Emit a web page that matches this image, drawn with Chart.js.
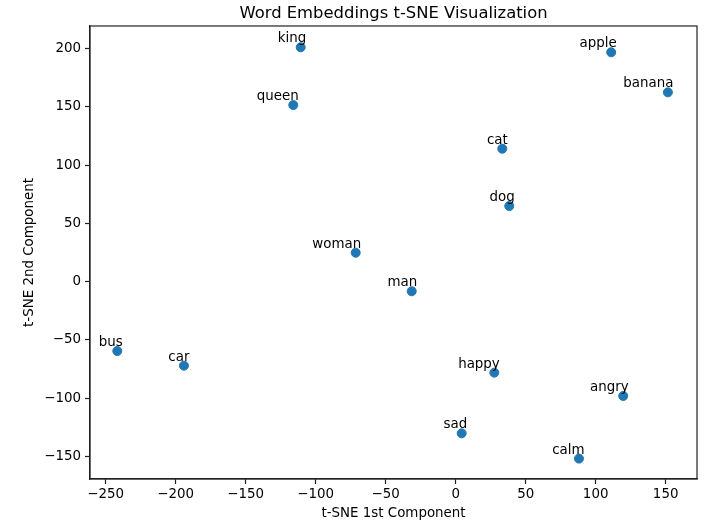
<!DOCTYPE html>
<html>
<head>
<meta charset="utf-8">
<script src="https://cdn.jsdelivr.net/npm/chart.js@4"></script>
<style>
html,body{margin:0;padding:0;background:#fff;}
#wrap{width:720px;height:531px;position:relative;}
</style>
</head>
<body>
<div id="wrap"><canvas id="c" width="720" height="531"></canvas></div>
<script>
const words = ["king","queen","apple","banana","cat","dog","woman","man","bus","car","happy","angry","sad","calm"];
const xValues = [-110.7,-116,111.1,151.6,33.3,38.3,-71.4,-31.4,-241.7,-194.1,27.6,119.7,4.3,88.1];
const yValues = [201.2,151.6,196.9,162.5,114.1,64.9,24.8,-8.3,-59.6,-72.2,-78.2,-98.2,-130.3,-152];
const xTicks = [-250,-200,-150,-100,-50,0,50,100,150];
const yTicks = [-150,-100,-50,0,50,100,150,200];

const FONT = "'DejaVu Sans', sans-serif";
const fmt = v => (v < 0 ? "\u2212" + Math.abs(v) : String(v));

const labelPlugin = {
  id: 'wordLabels',
  afterDatasetsDraw(chart) {
    const ctx = chart.ctx;
    const meta = chart.getDatasetMeta(0);
    ctx.save();
    ctx.font = "13.4px " + FONT;
    ctx.fillStyle = "#000";
    ctx.textAlign = "right";
    ctx.textBaseline = "alphabetic";
    meta.data.forEach((pt, i) => {
      ctx.fillText(words[i], pt.x + 5.5, pt.y - 5);
    });
    ctx.restore();
  }
};
const framePlugin = {
  id: 'frame',
  afterDraw(chart) {
    const a = chart.chartArea, ctx = chart.ctx;
    ctx.save();
    ctx.strokeStyle = "#222";
    ctx.lineWidth = 1.2;
    ctx.strokeRect(a.left, a.top, a.right - a.left, a.bottom - a.top);
    ctx.restore();
  }
};

new Chart(document.getElementById('c'), {
  type: 'scatter',
  data: {
    datasets: [{
      data: xValues.map((x, i) => ({x: x, y: yValues[i]})),
      backgroundColor: '#1f77b4',
      borderColor: '#1f77b4',
      pointRadius: 4.5,
      pointHoverRadius: 4.5
    }]
  },
  options: {
    responsive: false,
    animation: false,
    layout: {padding: {left: 18, right: 23, top: 0, bottom: 5}},
    plugins: {
      legend: {display: false},
      tooltip: {enabled: false},
      title: {
        display: true,
        fullSize: false,
        text: 'Word Embeddings t-SNE Visualization',
        color: '#000',
        font: {family: FONT, size: 16.4, weight: 'normal'},
        padding: {top: 4, bottom: 2.3}
      }
    },
    scales: {
      x: {
        type: 'linear',
        min: -261.2, max: 172.4,
        afterBuildTicks: s => { s.ticks = xTicks.map(v => ({value: v})); },
        afterFit: s => { s.height = 47; },
        grid: {drawOnChartArea: false, drawTicks: true, tickLength: 5, color: '#222', tickWidth: 1.2},
        border: {display: true, color: '#222', width: 1.2},
        ticks: {color: '#000', font: {family: FONT, size: 13.4}, padding: 2, maxRotation: 0, callback: v => fmt(v)},
        title: {display: true, text: 't-SNE 1st Component', color: '#000', font: {family: FONT, size: 13.4}, padding: 4}
      },
      y: {
        type: 'linear',
        min: -169.5, max: 219.5,
        afterBuildTicks: s => { s.ticks = yTicks.map(v => ({value: v})); },
        afterFit: s => { s.width = 72; },
        grid: {drawOnChartArea: false, drawTicks: true, tickLength: 5, color: '#222', tickWidth: 1.2},
        border: {display: true, color: '#222', width: 1.2},
        ticks: {color: '#000', font: {family: FONT, size: 13.4}, padding: 4, callback: v => fmt(v)},
        title: {display: true, text: 't-SNE 2nd Component', color: '#000', font: {family: FONT, size: 13.4}, padding: 3}
      }
    }
  },
  plugins: [labelPlugin, framePlugin]
});
</script>
</body>
</html>
